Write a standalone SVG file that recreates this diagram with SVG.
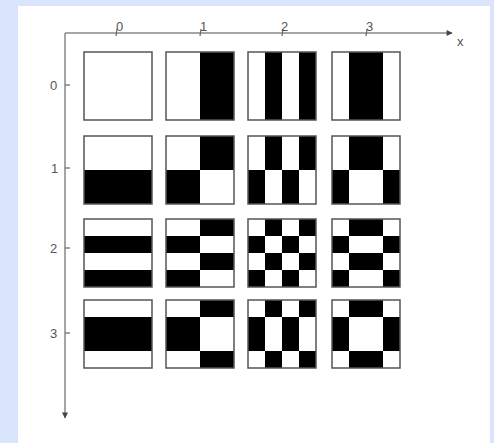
<svg xmlns="http://www.w3.org/2000/svg" width="494" height="443" viewBox="0 0 494 443">
<defs>
<marker id="ah" viewBox="0 0 10 10" refX="9" refY="5" markerWidth="7" markerHeight="6" markerUnits="userSpaceOnUse" orient="auto"><path d="M0,0 L10,5 L0,10 z" fill="#444"/></marker>
<style>
.bg{fill:#fff}
.fr{fill:none;stroke:#555;stroke-width:1.5}
.k{fill:#000}
.ax{stroke:#888;stroke-width:1.5;fill:none}
.tk{stroke:#666;stroke-width:1.2}
.lb{font-family:"Liberation Sans",Arial,sans-serif;font-size:13px;fill:#555}
</style>
</defs>
<rect width="494" height="443" fill="#dbe4fd"/>
<rect x="18" y="6" width="472" height="437" fill="#fff"/>

<g id="connectors">
<line class="ax" x1="65" y1="33" x2="452" y2="33" marker-end="url(#ah)"/>
<line class="ax" x1="65" y1="33" x2="65" y2="418" marker-end="url(#ah)"/>
<line class="tk" x1="117" y1="29" x2="116" y2="36"/>
<line class="tk" x1="201" y1="29" x2="200" y2="36"/>
<line class="tk" x1="283" y1="29" x2="282" y2="36"/>
<line class="tk" x1="367" y1="29" x2="366" y2="36"/>
<line class="tk" x1="65" y1="85" x2="70" y2="85"/>
<line class="tk" x1="65" y1="168" x2="70" y2="168"/>
<line class="tk" x1="65" y1="248" x2="70" y2="248"/>
<line class="tk" x1="65" y1="333" x2="70" y2="333"/>
</g>

<g id="labels">
<text class="lb" x="116" y="31">0</text>
<text class="lb" x="200" y="31">1</text>
<text class="lb" x="281" y="31">2</text>
<text class="lb" x="366" y="31">3</text>
<text class="lb" x="457" y="46">x</text>
<text class="lb" x="50" y="90">0</text>
<text class="lb" x="51" y="173">1</text>
<text class="lb" x="50" y="253">2</text>
<text class="lb" x="50" y="338">3</text>
</g>

<!-- row 0 -->
<g id="t00" transform="translate(84,52)"><rect class="bg" width="68" height="68"/><rect class="fr" width="68" height="68"/></g>
<g id="t01" transform="translate(166,52)"><rect class="bg" width="68" height="68"/><rect class="k" x="34" width="34" height="68"/><rect class="fr" width="68" height="68"/></g>
<g id="t02" transform="translate(248,52)"><rect class="bg" width="68" height="68"/><rect class="k" x="17" width="17" height="68"/><rect class="k" x="51" width="17" height="68"/><rect class="fr" width="68" height="68"/></g>
<g id="t03" transform="translate(332,52)"><rect class="bg" width="68" height="68"/><rect class="k" x="17" width="34" height="68"/><rect class="fr" width="68" height="68"/></g>

<!-- row 1 -->
<g id="t10" transform="translate(84,136)"><rect class="bg" width="68" height="68"/><rect class="k" y="34" width="68" height="34"/><rect class="fr" width="68" height="68"/></g>
<g id="t11" transform="translate(166,136)"><rect class="bg" width="68" height="68"/><rect class="k" x="34" width="34" height="34"/><rect class="k" y="34" width="34" height="34"/><rect class="fr" width="68" height="68"/></g>
<g id="t12" transform="translate(248,136)"><rect class="bg" width="68" height="68"/><rect class="k" x="17" width="17" height="34"/><rect class="k" x="51" width="17" height="34"/><rect class="k" x="0" y="34" width="17" height="34"/><rect class="k" x="34" y="34" width="17" height="34"/><rect class="fr" width="68" height="68"/></g>
<g id="t13" transform="translate(332,136)"><rect class="bg" width="68" height="68"/><rect class="k" x="17" width="34" height="34"/><rect class="k" x="0" y="34" width="17" height="34"/><rect class="k" x="51" y="34" width="17" height="34"/><rect class="fr" width="68" height="68"/></g>

<!-- row 2 -->
<g id="t20" transform="translate(84,219)"><rect class="bg" width="68" height="68"/><rect class="k" y="17" width="68" height="17"/><rect class="k" y="51" width="68" height="17"/><rect class="fr" width="68" height="68"/></g>
<g id="t21" transform="translate(166,219)"><rect class="bg" width="68" height="68"/><rect class="k" x="34" y="0" width="34" height="17"/><rect class="k" x="0" y="17" width="34" height="17"/><rect class="k" x="34" y="34" width="34" height="17"/><rect class="k" x="0" y="51" width="34" height="17"/><rect class="fr" width="68" height="68"/></g>
<g id="t22" transform="translate(248,219)"><rect class="bg" width="68" height="68"/>
<rect class="k" x="17" y="0" width="17" height="17"/><rect class="k" x="51" y="0" width="17" height="17"/>
<rect class="k" x="0" y="17" width="17" height="17"/><rect class="k" x="34" y="17" width="17" height="17"/>
<rect class="k" x="17" y="34" width="17" height="17"/><rect class="k" x="51" y="34" width="17" height="17"/>
<rect class="k" x="0" y="51" width="17" height="17"/><rect class="k" x="34" y="51" width="17" height="17"/>
<rect class="fr" width="68" height="68"/></g>
<g id="t23" transform="translate(332,219)"><rect class="bg" width="68" height="68"/>
<rect class="k" x="17" y="0" width="34" height="17"/>
<rect class="k" x="0" y="17" width="17" height="17"/><rect class="k" x="51" y="17" width="17" height="17"/>
<rect class="k" x="17" y="34" width="34" height="17"/>
<rect class="k" x="0" y="51" width="17" height="17"/><rect class="k" x="51" y="51" width="17" height="17"/>
<rect class="fr" width="68" height="68"/></g>

<!-- row 3 -->
<g id="t30" transform="translate(84,300)"><rect class="bg" width="68" height="68"/><rect class="k" y="17" width="68" height="34"/><rect class="fr" width="68" height="68"/></g>
<g id="t31" transform="translate(166,300)"><rect class="bg" width="68" height="68"/><rect class="k" x="34" y="0" width="34" height="17"/><rect class="k" x="0" y="17" width="34" height="34"/><rect class="k" x="34" y="51" width="34" height="17"/><rect class="fr" width="68" height="68"/></g>
<g id="t32" transform="translate(248,300)"><rect class="bg" width="68" height="68"/>
<rect class="k" x="17" y="0" width="17" height="17"/><rect class="k" x="51" y="0" width="17" height="17"/>
<rect class="k" x="0" y="17" width="17" height="34"/><rect class="k" x="34" y="17" width="17" height="34"/>
<rect class="k" x="17" y="51" width="17" height="17"/><rect class="k" x="51" y="51" width="17" height="17"/>
<rect class="fr" width="68" height="68"/></g>
<g id="t33" transform="translate(332,300)"><rect class="bg" width="68" height="68"/>
<rect class="k" x="17" y="0" width="34" height="17"/>
<rect class="k" x="0" y="17" width="17" height="34"/><rect class="k" x="51" y="17" width="17" height="34"/>
<rect class="k" x="17" y="51" width="34" height="17"/>
<rect class="fr" width="68" height="68"/></g>
</svg>
